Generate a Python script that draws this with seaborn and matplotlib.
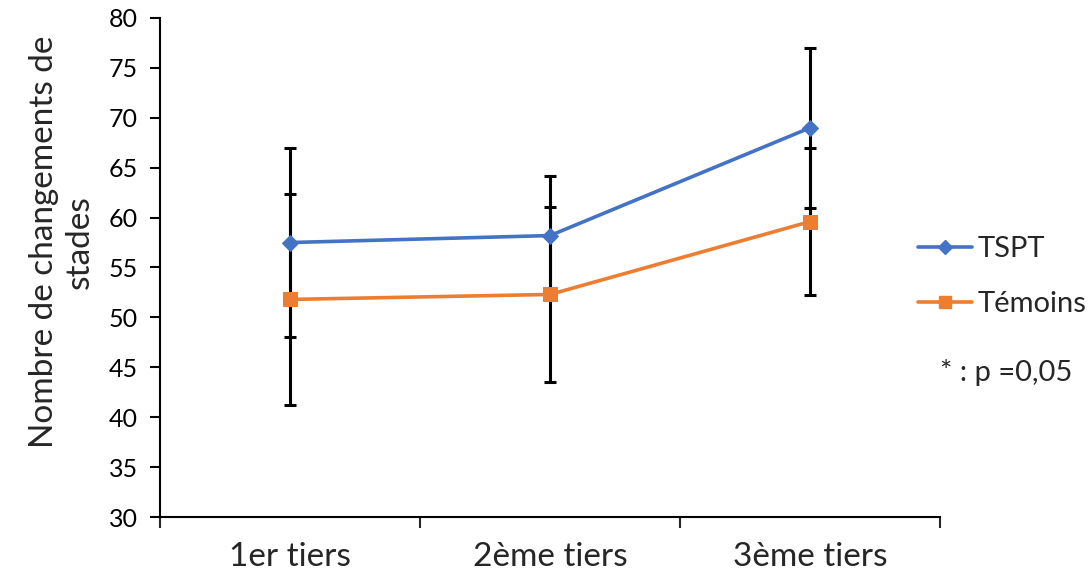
import numpy as np
import pandas as pd
import seaborn as sns
import matplotlib
matplotlib.use('Agg')
import matplotlib.pyplot as plt
from matplotlib.lines import Line2D

# data
tiers = ['1er tiers', '2ème tiers', '3ème tiers']
tspt = [57.5, 58.2, 69.0]
tspt_err = [9.5, 6.0, 8.0]
temoins = [51.8, 52.3, 59.6]
temoins_err = [10.6, 8.8, 7.4]

sns.set_style('white')
plt.rcParams['font.family'] = ['Lato', 'DejaVu Sans']

blue = '#4472C4'
orange = '#ED7D31'

df = pd.DataFrame({'pos': [0, 1, 2] * 2,
                   'val': tspt + temoins,
                   'groupe': ['TSPT'] * 3 + ['Témoins'] * 3})

fig = plt.figure(figsize=(10.92, 5.79), dpi=100)
ax = fig.add_axes([0.1465, 0.107, 0.7145, 0.862])

# error bars first so markers sit on top
ax.errorbar([0, 1, 2], tspt, yerr=tspt_err, fmt='none', ecolor='black',
            elinewidth=2.2, capsize=4.5, capthick=2.2, zorder=1)
ax.errorbar([0, 1, 2], temoins, yerr=temoins_err, fmt='none', ecolor='black',
            elinewidth=2.2, capsize=4.5, capthick=2.2, zorder=1)

sns.lineplot(data=df[df.groupe == 'TSPT'], x='pos', y='val', color=blue,
             marker='D', markersize=8.5, markeredgecolor=blue, linewidth=2.6,
             ax=ax, zorder=3, legend=False)
sns.lineplot(data=df[df.groupe == 'Témoins'], x='pos', y='val', color=orange,
             marker='s', markersize=9.5, markeredgecolor=orange, linewidth=2.6,
             ax=ax, zorder=3, legend=False)

ax.set_xlim(-0.5, 2.5)
ax.set_ylim(30, 80)
ax.set_yticks(np.arange(30, 81, 5))
ax.tick_params(axis='y', labelsize=18, length=7, width=1.5, direction='out',
               left=True, pad=9, colors='black')
ax.set_xticks([-0.5, 0.5, 1.5, 2.5])
ax.set_xticklabels([])
ax.set_xticks([0, 1, 2], minor=True)
ax.set_xticklabels(tiers, minor=True, fontsize=24)
ax.tick_params(axis='x', which='major', length=8, width=1.5, direction='out',
               bottom=True)
ax.tick_params(axis='x', which='minor', length=0, pad=18)
ax.set_xlabel('')
ax.set_ylabel('')
sns.despine(ax=ax)
for s in ['left', 'bottom']:
    ax.spines[s].set_color('black')
    ax.spines[s].set_linewidth(1.5)

fig.text(0.057, 1 - 242 / 579, 'Nombre de changements de\nstades',
         rotation=90, ha='center', va='center', fontsize=24,
         multialignment='center', linespacing=1.25)

handles = [Line2D([], [], color=blue, marker='D', markersize=7.5, linewidth=2.6),
           Line2D([], [], color=orange, marker='s', markersize=8.5, linewidth=2.6)]
fig.legend(handles, ['TSPT', 'Témoins'], loc='upper left',
           bbox_to_anchor=(0.8407, 1 - 236 / 579), frameon=False, fontsize=21,
           handlelength=1.85, handletextpad=0.2, labelspacing=1.0,
           borderaxespad=0, borderpad=0)
fig.text(0.861, 1 - 372 / 579, '* : p =0,05', ha='left', va='center',
         fontsize=21)

fig.savefig('out.png', dpi=100)
